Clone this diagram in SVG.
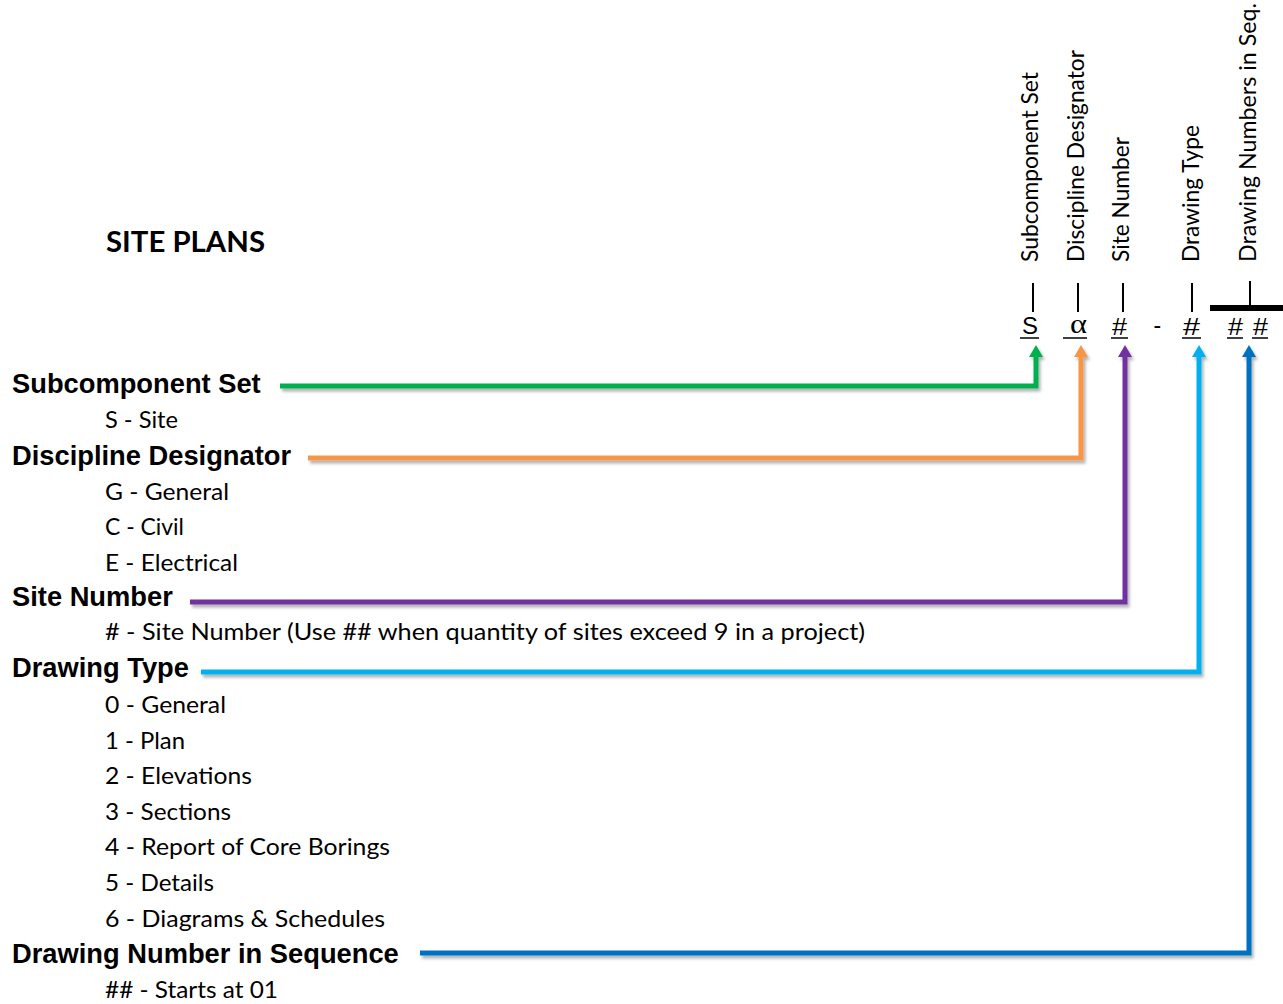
<svg xmlns="http://www.w3.org/2000/svg" width="1283" height="1004" viewBox="0 0 1283 1004">
<style>
.h{font-family:"Liberation Sans",Arial,sans-serif;font-weight:bold;font-size:27.3px;fill:#000}
.s{font-family:Lato,"Open Sans",sans-serif;font-size:23px;fill:#000}
.v{font-family:Lato,"Open Sans",sans-serif;font-size:22.5px;fill:#000}
.t{font-family:Lato,"Open Sans",sans-serif;font-weight:bold;font-size:28px;fill:#000}
.c{font-family:"Liberation Sans",Arial,sans-serif;font-size:23px;fill:#000}
.cs{font-family:"Liberation Serif","Times New Roman",serif;font-size:28px;fill:#000}
.tick{stroke:#000;stroke-width:2}
.ul{stroke:#000;stroke-width:1.5}
.con{fill:none;stroke-width:5;stroke-linejoin:miter}
</style>
<defs>
<filter id="sh" x="-5%" y="-5%" width="110%" height="110%">
<feDropShadow dx="2" dy="3" stdDeviation="1.5" flood-color="#000" flood-opacity="0.3"/>
</filter>
<marker id="aG" markerUnits="userSpaceOnUse" markerWidth="14" markerHeight="14" refX="0" refY="7" orient="auto"><path d="M0,0 L12,7 L0,14 z" fill="#00B050"/></marker>
<marker id="aO" markerUnits="userSpaceOnUse" markerWidth="14" markerHeight="14" refX="0" refY="7" orient="auto"><path d="M0,0 L12,7 L0,14 z" fill="#F79646"/></marker>
<marker id="aP" markerUnits="userSpaceOnUse" markerWidth="14" markerHeight="14" refX="0" refY="7" orient="auto"><path d="M0,0 L12,7 L0,14 z" fill="#7030A0"/></marker>
<marker id="aC" markerUnits="userSpaceOnUse" markerWidth="14" markerHeight="14" refX="0" refY="7" orient="auto"><path d="M0,0 L12,7 L0,14 z" fill="#00B0F0"/></marker>
<marker id="aB" markerUnits="userSpaceOnUse" markerWidth="14" markerHeight="14" refX="0" refY="7" orient="auto"><path d="M0,0 L12,7 L0,14 z" fill="#0070C0"/></marker>
</defs>
<rect width="1283" height="1004" fill="#fff"/>

<g id="title"><text class="t" x="106" y="252" textLength="159" lengthAdjust="spacingAndGlyphs">SITE PLANS</text></g>

<g id="field-labels">
<text class="v" transform="translate(1038,262) rotate(-90)" textLength="190" lengthAdjust="spacingAndGlyphs">Subcomponent Set</text>
<text class="v" transform="translate(1084,262) rotate(-90)" textLength="212" lengthAdjust="spacingAndGlyphs">Discipline Designator</text>
<text class="v" transform="translate(1129,262) rotate(-90)" textLength="125" lengthAdjust="spacingAndGlyphs">Site Number</text>
<text class="v" transform="translate(1199,262) rotate(-90)" textLength="137" lengthAdjust="spacingAndGlyphs">Drawing Type</text>
<text class="v" transform="translate(1256,262) rotate(-90)" textLength="259" lengthAdjust="spacingAndGlyphs">Drawing Numbers in Seq.</text>
</g>

<g id="code">
<line class="tick" x1="1033" y1="283" x2="1033" y2="312"/>
<line class="tick" x1="1078" y1="283" x2="1078" y2="312"/>
<line class="tick" x1="1123" y1="283" x2="1123" y2="312"/>
<line class="tick" x1="1192" y1="283" x2="1192" y2="312"/>
<line class="tick" x1="1250" y1="281" x2="1250" y2="306"/>
<rect x="1210" y="305" width="73" height="6" fill="#000"/>
<text class="c" x="1022" y="334" textLength="16" lengthAdjust="spacingAndGlyphs">S</text>
<line class="ul" x1="1020" y1="338" x2="1039" y2="338"/>
<text class="cs" x="1070" y="333" textLength="17" lengthAdjust="spacingAndGlyphs">α</text>
<line class="ul" x1="1063" y1="338" x2="1087" y2="338"/>
<text class="c" x="1112" y="335" font-size="25" textLength="15" lengthAdjust="spacingAndGlyphs">#</text>
<line class="ul" x1="1111" y1="338" x2="1128" y2="338"/>
<text class="c" x="1153.5" y="333">-</text>
<text class="c" x="1183" y="335" font-size="25" textLength="17" lengthAdjust="spacingAndGlyphs">#</text>
<line class="ul" x1="1182" y1="338" x2="1201" y2="338"/>
<text class="c" x="1228" y="335" font-size="25" textLength="15" lengthAdjust="spacingAndGlyphs">#</text>
<line class="ul" x1="1227" y1="338" x2="1243" y2="338"/>
<text class="c" x="1253" y="335" font-size="25" textLength="15" lengthAdjust="spacingAndGlyphs">#</text>
<line class="ul" x1="1252" y1="338" x2="1268" y2="338"/>
</g>

<g id="subcomponent-set">
<text class="h" x="12" y="393">Subcomponent Set</text>
<text class="s" x="105" y="428" textLength="73" lengthAdjust="spacingAndGlyphs">S - Site</text>
</g>

<g id="discipline-designator">
<text class="h" x="12" y="465">Discipline Designator</text>
<text class="s" x="105" y="500" textLength="124" lengthAdjust="spacingAndGlyphs">G - General</text>
<text class="s" x="105" y="535" textLength="79" lengthAdjust="spacingAndGlyphs">C - Civil</text>
<text class="s" x="105" y="571" textLength="133" lengthAdjust="spacingAndGlyphs">E - Electrical</text>
</g>

<g id="site-number">
<text class="h" x="12" y="606">Site Number</text>
<text class="s" x="105" y="640" textLength="760" lengthAdjust="spacingAndGlyphs"># - Site Number (Use ## when quantity of sites exceed 9 in a project)</text>
</g>

<g id="drawing-type">
<text class="h" x="12" y="677">Drawing Type</text>
<text class="s" x="105" y="713" textLength="121" lengthAdjust="spacingAndGlyphs">0 - General</text>
<text class="s" x="105" y="749" textLength="80" lengthAdjust="spacingAndGlyphs">1 - Plan</text>
<text class="s" x="105" y="784" textLength="147" lengthAdjust="spacingAndGlyphs">2 - Elevations</text>
<text class="s" x="105" y="820" textLength="126" lengthAdjust="spacingAndGlyphs">3 - Sections</text>
<text class="s" x="105" y="855" textLength="285" lengthAdjust="spacingAndGlyphs">4 - Report of Core Borings</text>
<text class="s" x="105" y="891" textLength="109" lengthAdjust="spacingAndGlyphs">5 - Details</text>
<text class="s" x="105" y="927" textLength="280" lengthAdjust="spacingAndGlyphs">6 - Diagrams &amp; Schedules</text>
</g>

<g id="drawing-number-in-sequence">
<text class="h" x="12" y="963">Drawing Number in Sequence</text>
<text class="s" x="105" y="998" textLength="173" lengthAdjust="spacingAndGlyphs">## - Starts at 01</text>
</g>

<g id="connectors" filter="url(#sh)">
<path class="con" stroke="#00B050" d="M280,386 H1036 V357" marker-end="url(#aG)"/>
<path class="con" stroke="#F79646" d="M308,458 H1081 V357" marker-end="url(#aO)"/>
<path class="con" stroke="#7030A0" d="M190,602 H1125 V357" marker-end="url(#aP)"/>
<path class="con" stroke="#00B0F0" d="M201,672 H1199 V357" marker-end="url(#aC)"/>
<path class="con" stroke="#0070C0" d="M420,953 H1249 V357" marker-end="url(#aB)"/>
</g>
</svg>
